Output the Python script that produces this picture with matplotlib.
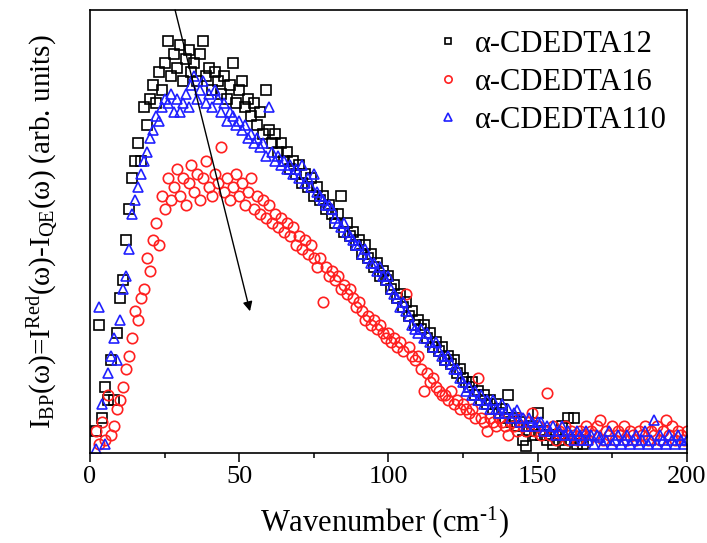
import numpy as np
import matplotlib
matplotlib.use("Agg")
import matplotlib.pyplot as plt

plt.rcParams['font.family'] = ['Liberation Serif', 'DejaVu Serif']
plt.rcParams['mathtext.fontset'] = 'custom'
plt.rcParams['mathtext.rm'] = 'Liberation Serif'
plt.rcParams['mathtext.it'] = 'Liberation Serif:italic'

# wavenumber grids (cm-1)
x_cd12 = np.arange(2, 166)
x_cd16 = np.arange(2, 201)
x_cd110 = np.arange(2, 201)

# intensities (arb. units)
y_cd12 = [5, 29, 8, 15, 12, 21, 12, 27, 35, 39,
          48, 55, 62, 66, 70, 66, 78, 74, 80, 83,
          79, 86, 82, 88, 93, 85, 90, 87, 92, 84,
          89, 91, 86, 88, 84, 90, 93, 85, 87, 82,
          86, 84, 81, 85, 80, 83, 88, 79, 82, 84,
          78, 80, 76, 79, 74, 77, 72, 82, 73, 70,
          72, 68, 70, 66, 68, 64, 66, 63, 65, 61,
          63, 60, 62, 58, 60, 57, 58, 55, 56, 54,
          52, 54, 58, 50, 52, 49, 50, 47, 48, 45,
          47, 44, 45, 42, 43, 40, 41, 39, 40, 37,
          38, 35, 36, 33, 34, 31, 32, 29, 30, 28,
          29, 26, 27, 24, 25, 23, 24, 21, 22, 20,
          21, 18, 19, 17, 16, 15, 16, 13, 14, 12,
          13, 11, 12, 10, 11, 9, 10, 8, 13, 7,
          8, 6, 7, 3, 1.5, 5, 6, 4, 9, 4,
          5, 3, 4, 2, 4, 3, 6, 2, 8, 3,
          8, 2, 3, 2]

y_cd16 = [5, 2, 7, 3, 13, 4, 6, 10, 12, 15,
          19, 22, 26, 32, 30, 35, 37, 44, 41, 48,
          52, 47, 58, 55, 62, 57, 60, 64, 58, 62,
          56, 61, 65, 59, 63, 57, 62, 66, 60, 58,
          63, 61, 69, 59, 62, 57, 60, 63, 58, 61,
          56, 59, 62, 55, 58, 54, 57, 53, 56, 52,
          54, 51, 53, 50, 52, 49, 51, 47, 49, 46,
          48, 45, 47, 44, 42, 44, 34, 42, 40, 41,
          39, 40, 37, 38, 36, 37, 35, 33, 34, 32,
          30, 31, 29, 30, 28, 29, 27, 26, 27, 25,
          26, 24, 25, 23, 36, 24, 22, 21, 22, 19,
          14, 18, 16, 17, 15, 14, 13, 13, 12, 14,
          11, 12, 10, 11, 10, 9, 10, 8, 17, 8,
          7, 5, 8, 7, 6, 8, 7, 6, 4, 7,
          6, 5, 8, 6, 5, 7, 9, 5, 6, 4,
          5, 13.5, 4, 6, 3, 5, 4, 6, 3, 5,
          4, 3, 5, 4, 6, 3, 5, 4, 6, 7.4,
          3, 5, 4, 6, 3, 5, 4, 6, 3, 5,
          4, 3, 5, 4, 6, 3, 5, 4, 6, 3,
          5, 7.4, 4, 6, 3, 5, 4, 3, 5]

y_cd110 = [1, 33, 11, 2, 18, 22, 26, 21, 30, 37,
           40, 46, 54, 57, 60, 63, 66, 68, 71, 73,
           76, 75, 78, 80, 79, 81, 77, 80, 77, 79,
           81, 78, 83, 85, 80, 82, 84, 79, 81, 78,
           82, 80, 77, 79, 75, 77, 76, 74, 75, 73,
           74, 71, 72, 70, 71, 69, 70, 67, 78, 68,
           66, 67, 65, 66, 64, 65, 63, 64, 62, 65,
           61, 62, 60, 63, 59, 58, 57, 56, 56, 55,
           53, 52, 51, 52, 50, 49, 48, 47, 47, 45,
           46, 44, 43, 43, 41, 42, 40, 39, 40, 37,
           36, 35, 33, 34, 32, 31, 29, 28, 27, 28,
           26, 27, 25, 24, 25, 23, 22, 21, 22, 20,
           19, 19, 17, 16, 14, 15, 13, 14, 12, 13,
           11, 12, 10, 12, 10, 9, 11, 9, 10, 8,
           9, 9.7, 7, 8, 6, 8, 7, 6, 7, 7,
           5, 6, 5, 6, 4, 5, 6, 4, 5, 4,
           3, 5, 4, 3, 5, 3, 4, 2, 4, 3.6,
           2, 3, 5, 2, 3, 4, 2, 3, 4, 2,
           3, 4, 2, 3, 5, 2, 3, 7.4, 2, 4,
           3, 2, 4, 3, 2, 4, 3, 2, 3]

labels = ['α-CDEDTA12', 'α-CDEDTA16', 'α-CDEDTA110']

fig = plt.figure(figsize=(7.07, 5.43), dpi=100)
ax = fig.add_axes([0.1273, 0.1657, 0.8444, 0.8159])

ms = 7
ax.plot(x_cd12, y_cd12, 's', ms=ms, mfc='none', mec='black', mew=1.2, label=labels[0])
ax.plot(x_cd16, y_cd16, 'o', ms=ms + 0.5, mfc='none', mec='#ff2020', mew=1.2, label=labels[1])
ax.plot(x_cd110, y_cd110, '^', ms=ms + 0.5, mfc='none', mec='#2020ff', mew=1.2, label=labels[2])

# arrow marking the trend
ax.annotate('', xy=(53.6, 32), xytext=(28.5, 100),
            arrowprops=dict(arrowstyle='-|>', color='black', lw=1.0,
                            mutation_scale=14, shrinkA=0, shrinkB=0))

ax.set_xlim(0, 200)
ax.set_ylim(0, 100)
ax.set_xticks([0, 50, 100, 150, 200])
ax.set_xticks([25, 75, 125, 175], minor=True)
ax.set_yticks([])
ax.tick_params(axis='x', which='major', direction='out', length=6.5, width=1.1,
               labelsize=19, pad=3)
ax.tick_params(axis='x', which='minor', direction='out', length=3.6, width=1.1)
for s in ax.spines.values():
    s.set_linewidth(1.2)

ax.set_xlabel('Wavenumber (cm$^{\\text{-}1}$)', fontsize=22, va='top')
ax.xaxis.set_label_coords(0.494, -0.115)
ax.set_ylabel('I$_{\\rm BP}$(ω)=I$^{\\rm Red}$(ω)-I$_{\\rm QE}$(ω) (arb. units)',
              fontsize=21)
ax.yaxis.set_label_coords(-0.05, 0.5)

ax.legend(loc='upper right', frameon=False, fontsize=22, markerscale=0.7,
          handlelength=0.9, handletextpad=0.45, labelspacing=0.3,
          borderaxespad=0.45, borderpad=0.2)

fig.savefig('out.png', dpi=100)
